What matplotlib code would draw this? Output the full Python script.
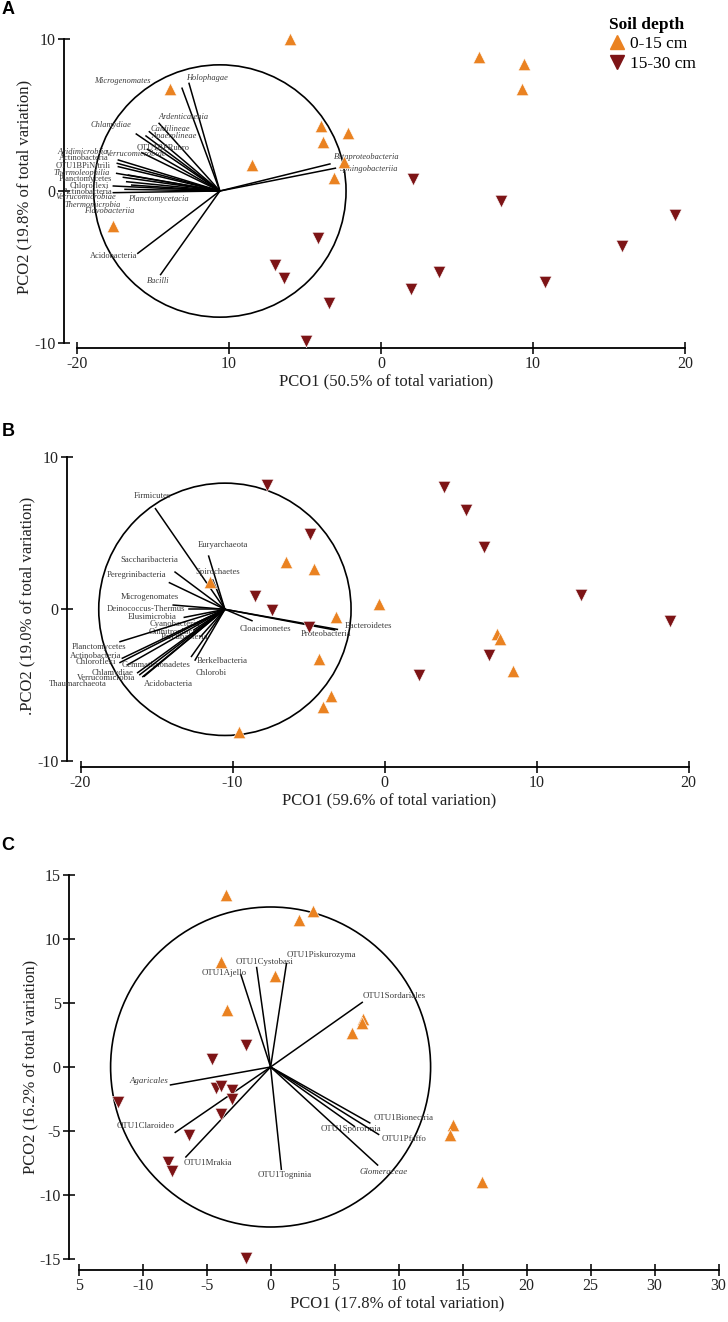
import matplotlib
matplotlib.use('Agg')
import matplotlib.pyplot as plt
from matplotlib.lines import Line2D
from matplotlib.patches import Circle

plt.rcParams['font.family'] = ['Liberation Serif', 'DejaVu Serif']

ORANGE = '#EA8221'
DARKRED = '#7D1416'
LABCOL = '#3c3c3c'

# ---------------- panel A data ----------------
a_up_x = [-6.0, 6.45, 9.4, 9.3, -13.9, -3.97, -2.17, -3.8, -8.5, -2.45, -3.1, -17.6]
a_up_y = [10.0, 8.8, 8.35, 6.7, 6.7, 4.28, 3.8, 3.25, 1.7, 1.9, 0.88, -2.28]
a_dn_x = [2.1, 7.9, 19.35, -4.16, 15.85, -6.95, 3.8, -6.4, 10.8, 1.95, -3.4, -4.96]
a_dn_y = [0.8, -0.66, -1.6, -3.1, -3.6, -4.9, -5.3, -5.7, -6.0, -6.47, -7.35, -9.85]

a_names = ['Microgenomates', 'Holophagae', 'Ardenticatenia', 'Chlamydiae', 'Caldilineae',
           'Anaerolineae', 'OTU1BPRubro', 'Verrucomicrobiae', 'Acidimicrobiia', 'Actinobacteria',
           'OTU1BPiNitrili', 'Thermoleophilia', 'Planctomycetes', 'Chloroflexi', 'Actinobacteria',
           'Verrucomicrobiae', 'Planctomycetacia', 'Thermomicrobia', 'Flavobacteriia',
           'Acidobacteria', 'Bacilli', 'Betaproteobacteria', 'Sphingobacteriia']
a_end_x = [-13.09, -12.63, -14.6, -16.1, -15.24, -15.46, -15.37, -15.74, -17.28, -17.35, -17.28,
           -17.39, -16.95, -17.61, -16.84, -17.61, -16.73, -16.4, -16.62, -16.0, -14.5, -3.36, -3.0]
a_end_y = [6.76, 7.08, 4.45, 3.75, 3.9, 3.62, 2.74, 2.52, 2.04, 1.82, 1.6, 1.16, 0.9, 0.33,
           0.11, -0.11, 0.61, 0.39, 1.05, -4.1, -5.5, 1.78, 1.5]
a_lab_x = [-17.0, -11.47, -13.0, -17.78, -13.88, -13.6, -14.36, -16.15, -19.6, -19.54, -19.6,
           -19.67, -19.44, -19.2, -19.28, -19.44, -14.67, -19.0, -17.9, -17.58, -14.66, -0.93, -0.75]
a_lab_y = [7.26, 7.41, 4.85, 4.34, 4.08, 3.62, 2.81, 2.41, 2.55, 2.15, 1.66, 1.2, 0.81, 0.35,
           -0.07, -0.41, -0.55, -0.9, -1.32, -4.26, -5.92, 2.26, 1.43]
a_ital = [1, 1, 1, 1, 1, 1, 0, 1, 1, 0, 0, 1, 0, 0, 0, 1, 1, 1, 1, 0, 1, 1, 1]

# ---------------- panel B data ----------------
b_up_x = [-11.5, -6.45, -4.64, -0.34, -3.22, 7.43, 7.58, 8.44, -4.33, -3.5, -4.02, -9.58]
b_up_y = [1.78, 3.13, 2.65, 0.33, -0.48, -1.65, -1.95, -4.06, -3.29, -5.7, -6.45, -8.05]
b_dn_x = [-7.74, 3.9, 5.37, 6.54, -4.88, -8.5, -7.37, 12.93, 18.8, -4.97, 6.9, 2.27]
b_dn_y = [8.18, 8.07, 6.53, 4.12, 4.93, 0.9, -0.05, 0.94, -0.8, -1.18, -3.0, -4.3]

b_names = ['Firmicutes', 'Euryarchaeota', 'Saccharibacteria', 'Peregrinibacteria', 'Spirochaetes',
           'Microgenomates', 'Deinococcus-Thermus', 'Elusimicrobia', 'Cyanobacteria', 'Omnitrophica',
           'Parcubacteria', 'Planctomycetes', 'Actinobacteria', 'Chloroflexi', 'Gemmatimonadetes',
           'Chlamydiae', 'Verrucomicrobia', 'Thaumarchaeota', 'Acidobacteria', 'Berkelbacteria',
           'Chlorobi', 'Cloacimonetes', 'Proteobacteria', 'Bacteroidetes']
b_end_x = [-15.07, -11.57, -13.78, -14.15, -11.3, -13.9, -12.86, -13.17, -12.4, -12.55, -12.1,
           -17.4, -17.25, -17.4, -16.9, -16.24, -15.9, -16.1, -15.8, -12.7, -12.46, -8.72, -3.28, -3.1]
b_end_y = [6.62, 3.5, 2.45, 1.75, 1.93, 0.28, 0.0, -0.53, -0.9, -1.36, -1.8, -2.13, -3.22, -3.5,
           -3.65, -4.17, -4.43, -4.3, -4.4, -3.1, -3.34, -0.75, -1.36, -1.32]
b_lab_x = [-15.3, -10.65, -15.5, -16.33, -11.0, -15.47, -15.7, -15.3, -13.8, -13.9, -13.17,
           -18.8, -19.0, -19.0, -15.0, -17.9, -18.3, -20.2, -14.24, -10.7, -11.4, -7.86, -3.87, -1.05]
b_lab_y = [7.45, 4.25, 3.22, 2.28, 2.47, 0.83, 0.02, -0.53, -1.0, -1.47, -1.8, -2.5, -3.07, -3.5,
           -3.67, -4.17, -4.54, -4.9, -4.9, -3.38, -4.2, -1.32, -1.63, -1.1]

# ---------------- panel C data ----------------
c_up_x = [-3.45, 2.22, 3.35, -3.89, 0.36, -3.38, 7.24, 7.13, 6.33, 14.25, 14.0, 16.55]
c_up_y = [13.43, 11.48, 12.17, 8.19, 7.12, 4.45, 3.74, 3.41, 2.64, -4.56, -5.33, -8.96]
c_dn_x = [-1.96, -4.55, -4.29, -3.85, -3.02, -3.02, -3.89, -11.9, -6.36, -8.04, -7.71, -1.89]
c_dn_y = [1.73, 0.66, -1.62, -1.46, -1.81, -2.53, -3.68, -2.77, -5.33, -7.39, -8.16, -14.89]

c_names = ['OTU1Ajello', 'OTU1Cystobasi', 'OTU1Piskurozyma', 'OTU1Sordariales', 'Agaricales',
           'OTU1Claroideo', 'OTU1Mrakia', 'OTU1Togninia', 'OTU1Bionectria', 'OTU1Sporormia',
           'OTU1Pfaffo', 'Glomeraceae']
c_end_x = [-2.33, -1.09, 1.24, 7.16, -7.82, -7.45, -6.62, 0.84, 7.75, 6.55, 8.44, 8.36]
c_end_y = [7.23, 7.77, 8.08, 5.05, -1.4, -5.11, -7.03, -7.99, -4.37, -4.64, -5.27, -7.66]
c_lab_x = [-3.64, -0.47, 3.93, 9.67, -9.53, -9.75, -4.91, 1.13, 10.4, 6.29, 10.4, 8.8]
c_lab_y = [7.36, 8.19, 8.76, 5.58, -1.07, -4.64, -7.53, -8.43, -4.01, -4.84, -5.6, -8.21]
c_ital = [0, 0, 0, 0, 1, 0, 0, 0, 0, 0, 0, 1]

W, H = 728, 1322
fig = plt.figure(figsize=(W / 100, H / 100), dpi=100)


def place(ax, x0px, y0px, s, xlim, ylim):
    left = x0px + xlim[0] * s
    top = y0px - ylim[1] * s
    w = (xlim[1] - xlim[0]) * s
    h = (ylim[1] - ylim[0]) * s
    ax.set_position([left / W, 1 - (top + h) / H, w / W, h / H])
    ax.set_xlim(xlim)
    ax.set_ylim(ylim)


def style(ax, xt, xl, yt, yl, xlab, ylab):
    for s in ['top', 'right']:
        ax.spines[s].set_visible(False)
    ax.spines['left'].set_bounds(yt[0], yt[-1])
    ax.spines['bottom'].set_bounds(xt[0], xt[-1])
    ax.spines['left'].set_linewidth(1.3)
    ax.spines['bottom'].set_linewidth(1.3)
    ax.set_xticks(xt)
    ax.set_xticklabels(xl)
    ax.set_yticks(yt)
    ax.set_yticklabels(yl)
    ax.tick_params(direction='inout', length=8, width=1.3, labelsize=11.5, pad=2, colors='#222222')
    ax.set_xlabel(xlab, fontsize=12, labelpad=1, color='#222222')
    ax.set_ylabel(ylab, fontsize=12, labelpad=1, color='#222222')
    ax.patch.set_alpha(0)


def points(ax, ux, uy, dx, dy):
    ax.scatter(ux, uy, marker='^', s=80, color=ORANGE, edgecolors='white', linewidths=0.4,
               clip_on=False, zorder=4)
    ax.scatter(dx, dy, marker='v', s=80, color=DARKRED, edgecolors='white', linewidths=0.4,
               clip_on=False, zorder=4)


def vectors(ax, cx, cy, r, ex, ey, names, lx, ly, ital, fs):
    ax.add_patch(Circle((cx, cy), r, fill=False, lw=1.2, ec='black', zorder=2))
    for i in range(len(names)):
        ax.plot([cx, ex[i]], [cy, ey[i]], color='black', lw=1.1, zorder=3)
        ax.text(lx[i], ly[i], names[i], fontsize=fs, ha='center', va='center', color=LABCOL,
                style='italic' if ital[i] else 'normal', zorder=3)


# ---------------- A ----------------
axA = fig.add_axes([0, 0, 1, 1])
place(axA, 381, 191, 15.2, (-20.86, 21.5), (-10.33, 10.8))
style(axA, [-20, -10, 0, 10, 20], ['-20', '10', '0', '10', '20'],
      [-10, 0, 10], ['-10', '0', '10'],
      'PCO1 (50.5% of total variation)', 'PCO2 (19.8% of total variation)')
vectors(axA, -10.6, 0, 8.3, a_end_x, a_end_y, a_names, a_lab_x, a_lab_y, a_ital, 6.0)
points(axA, a_up_x, a_up_y, a_dn_x, a_dn_y)

handles = [Line2D([], [], marker='^', ls='', ms=9.5, color=ORANGE),
           Line2D([], [], marker='v', ls='', ms=9.5, color=DARKRED)]
leg = axA.legend(handles, ['0-15 cm', '15-30 cm'], title='Soil depth', frameon=False,
                 loc='upper left', bbox_to_anchor=(600 / W, 1 - 8 / H),
                 bbox_transform=fig.transFigure, fontsize=12.5, handletextpad=0.2,
                 handlelength=1.0, labelspacing=0.2, borderpad=0)
leg.get_title().set_fontweight('bold')
leg.get_title().set_fontsize(12.5)
leg._legend_box.align = 'left'

# ---------------- B ----------------
axB = fig.add_axes([0, 0, 1, 1])
place(axB, 384.5, 609.3, 15.2, (-20.9, 21.5), (-10.37, 10.8))
style(axB, [-20, -10, 0, 10, 20], ['-20', '-10', '0', '10', '20'],
      [-10, 0, 10], ['-10', '0', '10'],
      'PCO1 (59.6% of total variation)', '.PCO2 (19.0% of total variation)')
vectors(axB, -10.5, 0, 8.3, b_end_x, b_end_y, b_names, b_lab_x, b_lab_y,
        [0] * len(b_names), 6.2)
points(axB, b_up_x, b_up_y, b_dn_x, b_dn_y)

# ---------------- C ----------------
axC = fig.add_axes([0, 0, 1, 1])
place(axC, 270.6, 1067, 12.8, (-15.75, 35.5), (-15.85, 15.8))
style(axC, list(range(-15, 40, 5)),
      ['5', '-10', '-5', '0', '5', '10', '15', '20', '25', '30', '30'],
      list(range(-15, 20, 5)), ['-15', '-10', '-5', '0', '5', '10', '15'],
      'PCO1 (17.8% of total variation)', 'PCO2 (16.2% of total variation)')
vectors(axC, 0, 0, 12.5, c_end_x, c_end_y, c_names, c_lab_x, c_lab_y, c_ital, 6.4)
points(axC, c_up_x, c_up_y, c_dn_x, c_dn_y)

for letter, ypx in [('A', 9), ('B', 432), ('C', 845)]:
    fig.text(8 / W, 1 - ypx / H, letter, fontsize=13, fontweight='bold',
             family='Liberation Sans', ha='center', va='center')

fig.savefig('out.png', dpi=100)
